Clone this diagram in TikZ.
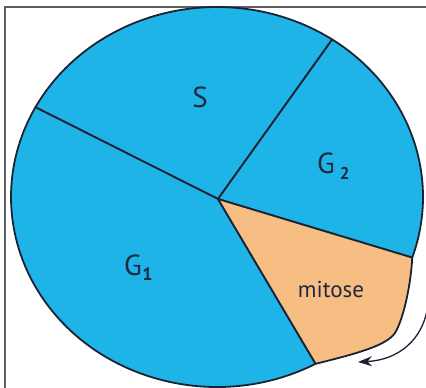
\documentclass[tikz,border=0pt]{standalone}
\usepackage{fontspec}
\setmainfont{PT Sans}
\usetikzlibrary{arrows.meta,calc}
\definecolor{cyc}{RGB}{30,180,232}
\definecolor{mito}{RGB}{247,190,132}
\definecolor{ink}{RGB}{25,35,52}
\definecolor{txt}{RGB}{30,40,62}
\definecolor{framec}{RGB}{95,95,95}
\tikzset{
  sector/.style={draw=ink, line width=1.8pt, line join=round},
  lbl/.style={text=txt, inner sep=0pt},
}
\begin{document}
\begin{tikzpicture}[x=1pt,y=1pt]
\useasboundingbox (0,0) rectangle (426,388);
\clip (0,0) rectangle (426,388);
\fill[white] (0,0) rectangle (426,388);
\draw[framec, line width=1.6pt] (5,381) rectangle (450,-20);
\coordinate (O) at (217,191);
\coordinate (P) at (218,189);
\coordinate (A) at ($(O)+(151.8:206 and 190)$);
\coordinate (B) at ($(O)+(56:206 and 190)$);
\coordinate (C) at ($(O)+(-18.6:206 and 190)$);
\coordinate (D) at ($(O)+(-61.4:206 and 190)$);
\coordinate (K) at (395,55);
% sectors
\filldraw[sector, fill=cyc] (P) -- (A) arc[start angle=151.8, end angle=56, x radius=206, y radius=190] -- cycle;
\filldraw[sector, fill=cyc] (P) -- (B) arc[start angle=56, end angle=-18.6, x radius=206, y radius=190] -- cycle;
\filldraw[sector, fill=cyc] (P) -- (D) arc[start angle=-61.4, end angle=-208.2, x radius=206, y radius=190] -- cycle;
\filldraw[sector, fill=mito] (P) -- (C) .. controls (411,105) and (404,70) .. (K) .. controls (386,42) and (355,34) .. (D) -- cycle;
% labels
\node[lbl, font=\fontsize{29}{29}\selectfont] (s) at (200,291) {S};
\node[lbl, font=\fontsize{29}{29}\selectfont, anchor=base west] (g2) at (317,214) {G\hspace{5pt}\raisebox{-6pt}{\fontsize{17}{17}\selectfont\bfseries 2}};
\node[lbl, font=\fontsize{29}{29}\selectfont, anchor=base west] (g1) at (124,112) {G\hspace{0.5pt}\raisebox{-5pt}{\fontsize{18}{18}\selectfont\bfseries 1}};
\node[lbl, font=\fontsize{23}{23}\selectfont] (m) at (331,99) {mitose};
% arrow
\coordinate (arrS) at (428,84);
\coordinate (arrE) at (358,26);
\draw[ink, line width=1.3pt, -{Stealth[length=14pt,width=10pt]}] (arrS) .. controls (424,48) and (398,28) .. (arrE);
\end{tikzpicture}
\end{document}
